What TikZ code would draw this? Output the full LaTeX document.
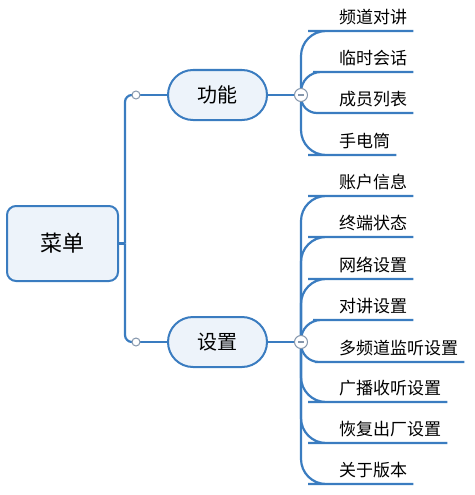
\documentclass[tikz,border=0pt]{standalone}
\usepackage{fontspec}
\setmainfont{Noto Sans CJK SC}
\usepackage{xcolor}
\usetikzlibrary{positioning}
\definecolor{mapblue}{HTML}{3A7CC0}
\definecolor{mapfill}{HTML}{EDF3FA}
\definecolor{knobgray}{HTML}{8496AC}

\begin{document}
\begin{tikzpicture}[x=1pt,y=-1pt,
  rootbox/.style={draw=mapblue,line width=2pt,rounded corners=9pt,fill=mapfill,
                  minimum width=111pt,minimum height=75pt,font=\fontsize{22}{26}\selectfont},
  topic/.style={draw=mapblue,line width=2pt,rounded corners=25pt,fill=mapfill,
                minimum width=99pt,minimum height=50pt,font=\fontsize{20}{24}\selectfont},
  leaf/.style={anchor=south west,inner xsep=6pt,inner ysep=6pt,font=\fontsize{17}{20}\selectfont},
  link/.style={mapblue,line width=2.2pt},
  knob/.style={circle,draw=knobgray,fill=white,line width=1pt,inner sep=0pt,minimum size=8pt},
  fold/.style={circle,draw=knobgray,fill=white,line width=1pt,inner sep=0pt,minimum size=13pt}
]
\useasboundingbox (0,0) rectangle (474,495);

\node[rootbox] (menu) at (62.5,243.5) {菜单};
\node[topic] (func) at (217.5,95) {功能};
\node[topic] (conf) at (217.5,342) {设置};

\coordinate (trunk) at (125,243.5);
\coordinate (ja) at (136,95);
\coordinate (jb) at (136,342);
\coordinate (ca) at (301,95);
\coordinate (cb) at (301,342);

% leaves of 功能
\node[leaf] (f1) at (333,31) {频道对讲};
\node[leaf] (f2) at (333,72) {临时会话};
\node[leaf] (f3) at (333,113) {成员列表};
\node[leaf] (f4) at (333,155) {手电筒};

% leaves of 设置
\node[leaf] (s1) at (333,196) {账户信息};
\node[leaf] (s2) at (333,237) {终端状态};
\node[leaf] (s3) at (333,279) {网络设置};
\node[leaf] (s4) at (333,320) {对讲设置};
\node[leaf] (s5) at (333,362) {多频道监听设置};
\node[leaf] (s6) at (333,402) {广播收听设置};
\node[leaf] (s7) at (333,443) {恢复出厂设置};
\node[leaf] (s8) at (333,484) {关于版本};

% connectors
\draw[link] (menu.east) -- (trunk);
\draw[link,rounded corners=7pt] (trunk) |- (ja);
\draw[link,rounded corners=7pt] (trunk) |- (jb);
\draw[link] (ja) -- (func);
\draw[link] (jb) -- (conf);
\draw[link] (func) -- (ca);
\draw[link] (conf) -- (cb);

\foreach \l/\r in {f1/25,f2/20,f3/16,f4/25}
  \draw[link,rounded corners=\r pt] (ca) |- (\l.south west) -- (\l.south east);
\foreach \l/\r in {s1/25,s2/25,s3/25,s4/20,s5/18,s6/25,s7/25,s8/25}
  \draw[link,rounded corners=\r pt] (cb) |- (\l.south west) -- (\l.south east);

% knobs on top
\node[knob] (ka) at (ja) {};
\node[knob] (kb) at (jb) {};
\node[fold] (fa) at (ca) {};
\node[fold] (fb) at (cb) {};
\draw[knobgray,line width=1.2pt] ([xshift=-3pt]fa.center) -- ([xshift=3pt]fa.center);
\draw[knobgray,line width=1.2pt] ([xshift=-3pt]fb.center) -- ([xshift=3pt]fb.center);
\end{tikzpicture}
\end{document}
